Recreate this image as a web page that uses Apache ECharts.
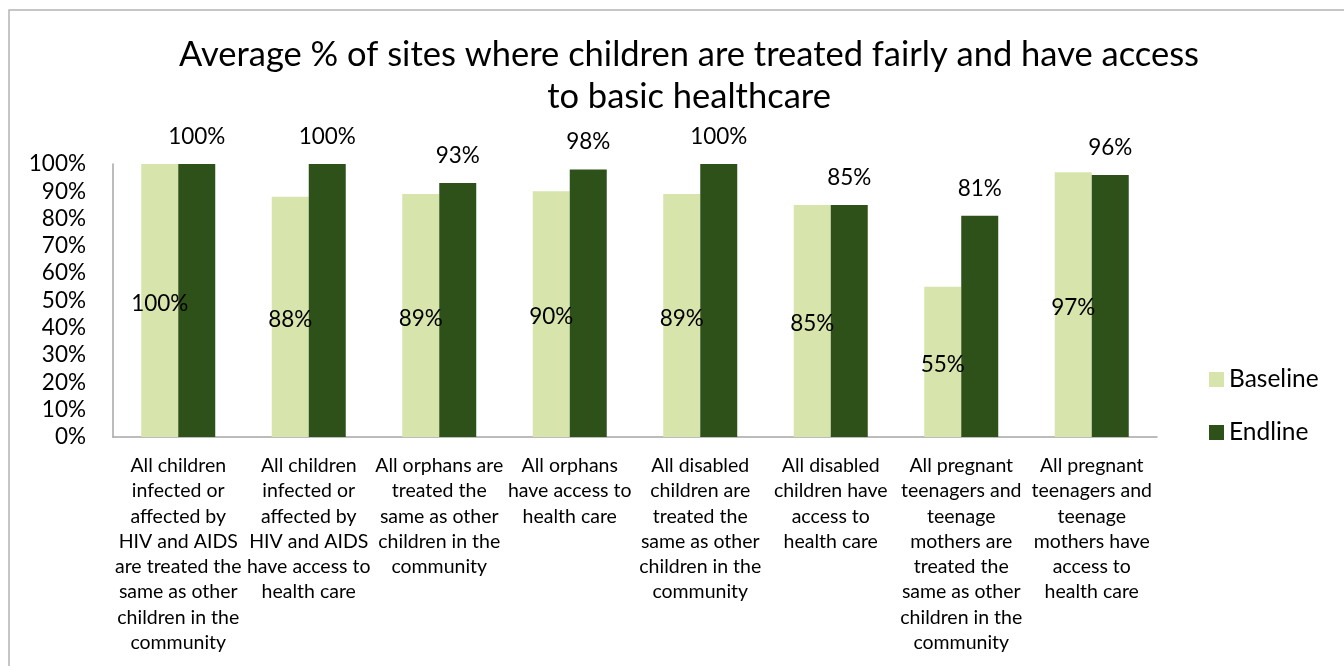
<!DOCTYPE html>
<html>
<head>
<meta charset="utf-8">
<script src="https://cdn.jsdelivr.net/npm/echarts@6/dist/echarts.min.js"></script>
<style>
  html, body { margin: 0; padding: 0; background: #ffffff; }
  #chart { width: 1344px; height: 666px; }
</style>
</head>
<body>
<div id="chart"></div>
<script>
// Indicator labels (wrapped the way they appear under each pair of bars)
const categories = [
  'All children\ninfected or\naffected by\nHIV and AIDS\nare treated the\nsame as other\nchildren in the\ncommunity',
  'All children\ninfected or\naffected by\nHIV and AIDS\nhave access to\nhealth care',
  'All orphans are\ntreated the\nsame as other\nchildren in the\ncommunity',
  'All orphans\nhave access to\nhealth care',
  'All disabled\nchildren are\ntreated the\nsame as other\nchildren in the\ncommunity',
  'All disabled\nchildren have\naccess to\nhealth care',
  'All pregnant\nteenagers and\nteenage\nmothers are\ntreated the\nsame as other\nchildren in the\ncommunity',
  'All pregnant\nteenagers and\nteenage\nmothers have\naccess to\nhealth care'
];

// Percent of sites, per survey round
const baseline = [100, 88, 89, 90, 89, 85, 55, 97];
const endline  = [100, 100, 93, 98, 100, 85, 81, 96];

const yTicks = [0, 10, 20, 30, 40, 50, 60, 70, 80, 90, 100];

const FONT = 'Lato';

const chart = echarts.init(document.getElementById('chart'));

chart.setOption({
  backgroundColor: '#ffffff',
  animation: false,
  textStyle: { fontFamily: FONT, color: '#000000' },
  title: {
    text: 'Average % of sites where children are treated fairly and have access\nto basic healthcare',
    left: 684,
    textAlign: 'center',
    top: 29,
    textStyle: { fontFamily: FONT, fontSize: 34.5, fontWeight: 'normal', color: '#000000', lineHeight: 42 }
  },
  legend: {
    orient: 'vertical',
    left: 1204,
    top: 362,
    itemWidth: 15,
    itemHeight: 15,
    itemGap: 28,
    icon: 'rect',
    textStyle: { fontFamily: FONT, fontSize: 24.5, color: '#000000' },
    data: ['Baseline', 'Endline']
  },
  grid: { left: 113, right: 187, top: 164, bottom: 229, containLabel: false },
  xAxis: {
    type: 'category',
    data: categories,
    axisLine: { show: true, lineStyle: { color: '#a6a6a6', width: 1.5 } },
    axisTick: { show: false },
    axisLabel: {
      interval: 0,
      margin: 16,
      fontFamily: FONT,
      fontSize: 19.5,
      lineHeight: 25.3,
      color: '#000000',
      align: 'center',
      verticalAlign: 'top'
    }
  },
  yAxis: {
    type: 'value',
    min: yTicks[0],
    max: yTicks[yTicks.length - 1],
    interval: 10,
    axisLine: { show: true, lineStyle: { color: '#a6a6a6', width: 1.5 } },
    axisTick: { show: false },
    splitLine: { show: false },
    axisLabel: {
      margin: 27,
      fontFamily: FONT,
      fontSize: 22.5,
      color: '#000000',
      formatter: v => v + '%'
    }
  },
  series: [
    {
      name: 'Baseline',
      type: 'bar',
      data: baseline,
      barGap: '0%',
      barCategoryGap: '43.3%',
      itemStyle: { color: '#d7e4ac' },
      label: {
        show: true,
        position: 'inside',
        offset: [0, 3],
        fontFamily: FONT,
        fontSize: 22.5,
        color: '#000000',
        formatter: p => p.value + '%'
      }
    },
    {
      name: 'Endline',
      type: 'bar',
      data: endline,
      itemStyle: { color: '#2e5019' },
      label: {
        show: true,
        position: 'top',
        distance: 16,
        fontFamily: FONT,
        fontSize: 22.5,
        color: '#000000',
        formatter: p => p.value + '%'
      }
    }
  ],
  graphic: [
    {
      type: 'rect',
      silent: true,
      shape: { x: 9, y: 10, width: 1400, height: 700 },
      style: { fill: 'none', stroke: '#b4b4b4', lineWidth: 1.5 }
    }
  ]
});
</script>
</body>
</html>
